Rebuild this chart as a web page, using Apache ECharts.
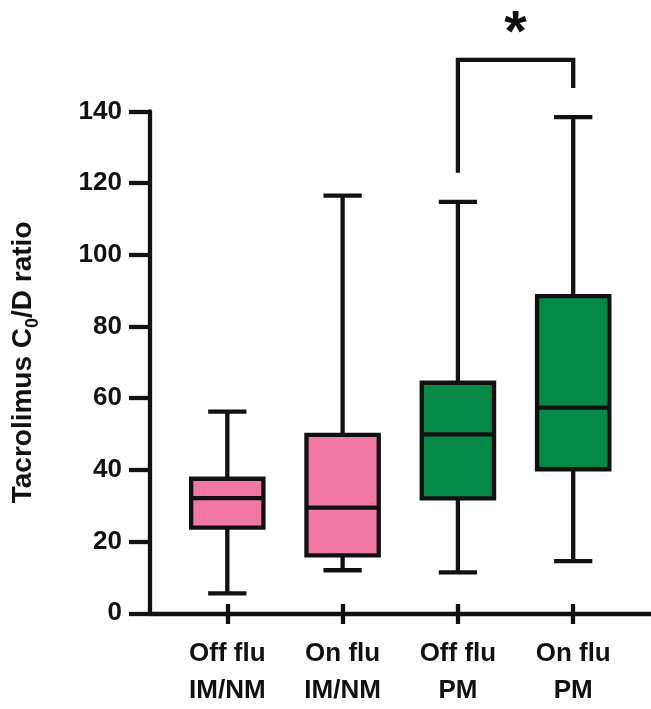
<!DOCTYPE html>
<html>
<head>
<meta charset="utf-8">
<script src="https://cdn.jsdelivr.net/npm/echarts@6/dist/echarts.min.js"></script>
<style>html,body{margin:0;padding:0;background:#fff;}#c{width:651px;height:709px;}</style>
</head>
<body>
<div id="c"></div>
<script>
// Data
const categories = ['Off flu\nIM/NM', 'On flu\nIM/NM', 'Off flu\nPM', 'On flu\nPM'];
const whiskerMin = [3.0, 9.6, 9.0, 12.2];
const q1Values   = [21.7, 13.8, 30.0, 38.3];
const medians    = [30.1, 27.4, 48.2, 55.8];
const q3Values   = [35.6, 48.1, 62.9, 87.5];
const whiskerMax = [54.7, 116.1, 114.3, 138.4];
const boxColors  = ['#F279A6', '#F279A6', '#048A46', '#048A46'];
const yTicks = [0, 20, 40, 60, 80, 100, 120, 140];
// significance bracket between categories 2 and 3
const bracketFrom = 2, bracketTo = 3;
const bracketLeftEnd = 122.6, bracketRightEnd = 146.7, bracketTop = 154.7;
const sigLabel = '*';

const FONT = "'Liberation Sans Narrow', 'Arial Narrow', 'Liberation Sans', Arial, sans-serif";
const INK = '#111111';

const boxData = categories.map((c, i) => [i, whiskerMin[i], q1Values[i], medians[i], q3Values[i], whiskerMax[i]]);

const chart = echarts.init(document.getElementById('c'), null, {renderer: 'canvas'});

function renderBox(params, api) {
  const i = api.value(0);
  const band = api.size([1, 0])[0];
  const boxW = band * 0.627;
  const capW = band * 0.332;
  const pMin = api.coord([i, api.value(1)]);
  const pQ1 = api.coord([i, api.value(2)]);
  const pMed = api.coord([i, api.value(3)]);
  const pQ3 = api.coord([i, api.value(4)]);
  const pMax = api.coord([i, api.value(5)]);
  const cx = pMed[0];
  const ls = {stroke: INK, lineWidth: 4.3};
  return {
    type: 'group',
    children: [
      {type: 'line', shape: {x1: cx, y1: pMax[1], x2: cx, y2: pQ3[1]}, style: ls},
      {type: 'line', shape: {x1: cx, y1: pQ1[1], x2: cx, y2: pMin[1]}, style: ls},
      {type: 'line', shape: {x1: cx - capW / 2, y1: pMax[1], x2: cx + capW / 2, y2: pMax[1]}, style: ls},
      {type: 'line', shape: {x1: cx - capW / 2, y1: pMin[1], x2: cx + capW / 2, y2: pMin[1]}, style: ls},
      {type: 'rect', shape: {x: cx - boxW / 2, y: pQ3[1], width: boxW, height: pQ1[1] - pQ3[1]},
        style: {fill: boxColors[i], stroke: INK, lineWidth: 4.3}},
      {type: 'line', shape: {x1: cx - boxW / 2, y1: pMed[1], x2: cx + boxW / 2, y2: pMed[1]}, style: ls}
    ]
  };
}

function renderBracket(params, api) {
  const a = api.value(0), b = api.value(1);
  const pL = api.coord([a, api.value(2)]);
  const pLT = api.coord([a, api.value(4)]);
  const pR = api.coord([b, api.value(3)]);
  const pRT = api.coord([b, api.value(4)]);
  const ls = {stroke: INK, lineWidth: 4.3, fill: null};
  return {
    type: 'group',
    children: [
      {type: 'polyline', shape: {points: [pL, pLT, pRT, pR]}, style: ls},
      {type: 'text', x: (pLT[0] + pRT[0]) / 2, y: pLT[1] - 25,
        style: {text: sigLabel, fill: INK, fontSize: 58, fontWeight: 'bold', fontFamily: 'Liberation Sans', align: 'center', verticalAlign: 'middle'}}
    ]
  };
}

chart.setOption({
  animation: false,
  backgroundColor: '#fff',
  grid: [
    {left: 150, right: 0, top: 111.5, height: 501.8},
    {left: 169.65, width: 461.2, top: 111.5, height: 501.8}
  ],
  xAxis: [
    {gridIndex: 0, type: 'value', min: 0, max: 1,
      axisLine: {show: true, lineStyle: {color: INK, width: 4.3}},
      axisTick: {show: false}, axisLabel: {show: false}, splitLine: {show: false}},
    {gridIndex: 1, type: 'category', data: categories, boundaryGap: true,
      axisLine: {show: false},
      axisTick: {show: true, alignWithLabel: true, length: 20, lineStyle: {color: INK, width: 4.3}},
      axisLabel: {color: INK, fontSize: 26, fontWeight: 'bold', fontFamily: FONT, lineHeight: 37, margin: 31, interval: 0},
      splitLine: {show: false}}
  ],
  yAxis: [
    {gridIndex: 0, type: 'value', min: yTicks[0], max: yTicks[yTicks.length - 1], interval: yTicks[1] - yTicks[0],
      axisLine: {show: true, lineStyle: {color: INK, width: 4.3}},
      axisTick: {show: true, inside: false, length: 21, lineStyle: {color: INK, width: 4.3}},
      axisLabel: {color: INK, fontSize: 26, fontWeight: 'bold', fontFamily: FONT, margin: 28},
      splitLine: {show: false},
      name: '{a|Tacrolimus C}{b|0}{a|/D ratio}',
      nameLocation: 'middle', nameRotate: 90, nameGap: 108,
      nameTextStyle: {
        rich: {
          a: {fontSize: 28, fontWeight: 'bold', fontFamily: FONT, color: INK, lineHeight: 38},
          b: {fontSize: 18, fontWeight: 'bold', fontFamily: FONT, color: INK, lineHeight: 24, verticalAlign: 'bottom'}
        }
      }},
    {gridIndex: 1, type: 'value', min: yTicks[0], max: yTicks[yTicks.length - 1], show: false}
  ],
  series: [
    {type: 'custom', xAxisIndex: 1, yAxisIndex: 1, data: boxData, renderItem: renderBox, clip: false, silent: true},
    {type: 'custom', xAxisIndex: 1, yAxisIndex: 1,
      data: [[bracketFrom, bracketTo, bracketLeftEnd, bracketRightEnd, bracketTop]],
      renderItem: renderBracket, clip: false, silent: true}
  ]
});
</script>
</body>
</html>
